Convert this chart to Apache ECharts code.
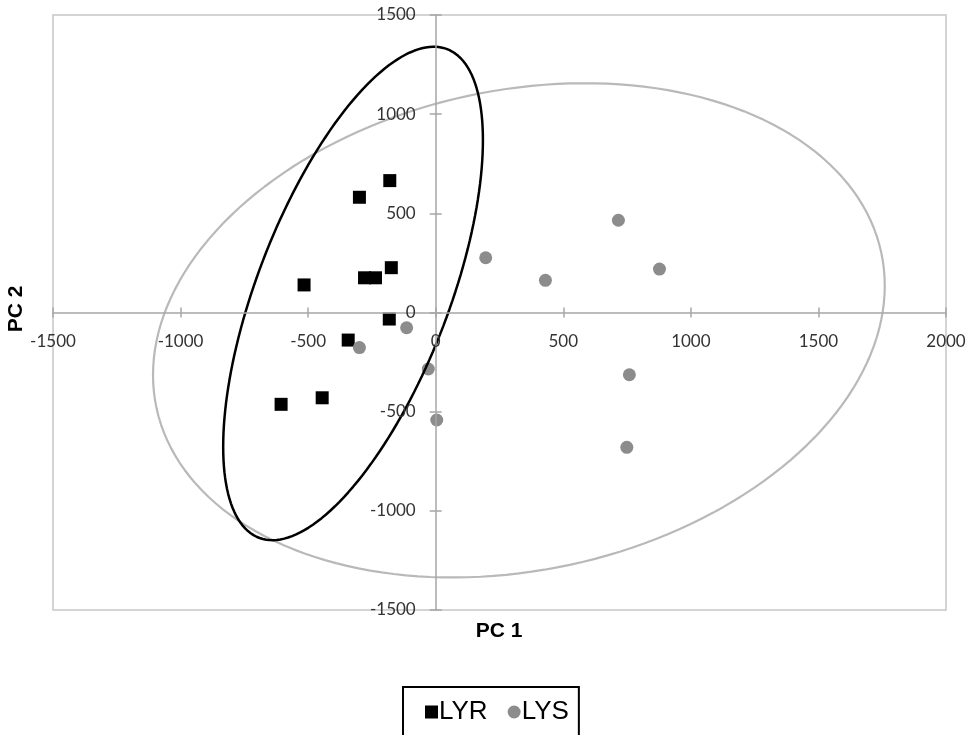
<!DOCTYPE html>
<html>
<head>
<meta charset="utf-8">
<script src="https://cdn.jsdelivr.net/npm/echarts@6/dist/echarts.min.js"></script>
<style>
  html, body { margin: 0; padding: 0; background: #fff; }
  #main { width: 970px; height: 735px; }
</style>
</head>
<body>
<div id="main"></div>
<script>
// scores
const lyrX = [-180, -299, -174, -279, -236, -516, -182, -343, -445, -606]
const lyrY = [665, 581, 226, 175, 175, 139, -33, -139, -430, -463]
const lysX = [-114, -299, -29, 4, 196, 430, 716, 877, 759, 749]
const lysY = [-77, -177, -285, -542, 276, 162, 465, 219, -314, -680]

// ellipses: centre x, centre y, half width, half height, phase (deg)
const lyrEllipse = [-324, 96, 509, 1244, 51.6]
const lysEllipse = [326, -90, 1434, 1246, 79.6]

const xTicks = [-1500, 2000, 500]
const yTicks = [-1500, 1500, 500]

function pairs(xs, ys) {
  return xs.map((x, i) => [x, ys[i]])
}

function ellipsePoints(e) {
  let pts = []
  let ph = (e[4] * Math.PI) / 180
  for (let i = 0; i <= 180; i++) {
    let t = (2 * Math.PI * i) / 180
    pts.push([e[0] + e[2] * Math.cos(t), e[1] + e[3] * Math.cos(t - ph)])
  }
  return pts
}

let chart = echarts.init(document.getElementById('main'))

// plot area
let W = 970, H = 735
let gLeft = 53, gRight = 24, gTop = 15, gBottom = 125
let gw = W - gLeft - gRight
let gh = H - gTop - gBottom
// where the zero lines sit, axes are moved there (excel style crossing axes)
let zeroX = gLeft + ((0 - xTicks[0]) / (xTicks[1] - xTicks[0])) * gw
let zeroY = gTop + ((yTicks[1] - 0) / (yTicks[1] - yTicks[0])) * gh

let tickFont = { fontFamily: 'Lato', fontSize: 17, color: '#333', formatter: (v) => String(v) }
let axisGray = { color: '#a6a6a6', width: 1.5 }

function xAxisOf(pos, offset, main) {
  return {
    type: 'value',
    position: pos,
    offset: offset,
    z: 10,
    min: xTicks[0],
    max: xTicks[1],
    interval: xTicks[2],
    splitLine: { show: false },
    axisLine: { show: main, onZero: false, lineStyle: axisGray },
    axisTick: { show: true, length: 5, lineStyle: axisGray },
    axisLabel: Object.assign({ show: main, margin: 21, showMinLabel: true, showMaxLabel: true }, tickFont),
  }
}

function yAxisOf(pos, offset, main) {
  return {
    type: 'value',
    position: pos,
    offset: offset,
    z: 10,
    min: yTicks[0],
    max: yTicks[1],
    interval: yTicks[2],
    splitLine: { show: false },
    axisLine: { show: main, onZero: false, lineStyle: axisGray },
    axisTick: { show: true, length: 6, lineStyle: axisGray },
    axisLabel: Object.assign({ show: main, margin: 20, showMinLabel: true, showMaxLabel: true }, tickFont),
  }
}

let option = {
  backgroundColor: '#fff',
  animation: false,
  grid: {
    left: gLeft,
    right: gRight,
    top: gTop,
    bottom: gBottom,
    outerBoundsMode: 'none',
    containLabel: false,
    show: true,
    borderColor: '#c6c6c6',
    borderWidth: 1.5,
  },
  xAxis: [
    xAxisOf('bottom', -(gTop + gh - zeroY), true),
    xAxisOf('top', -(zeroY - gTop), false),
  ],
  yAxis: [
    yAxisOf('left', -(zeroX - gLeft), true),
    yAxisOf('right', -(gLeft + gw - zeroX), false),
  ],
  legend: {
    data: ['LYR', 'LYS'],
    left: 403,
    top: 687,
    orient: 'horizontal',
    borderColor: '#000',
    borderWidth: 2,
    borderRadius: 0,
    padding: [12, 10, 40, 22],
    itemGap: 20,
    itemWidth: 13,
    itemHeight: 13,
    textStyle: { fontFamily: 'Liberation Sans', fontSize: 26, color: '#000', padding: [0, 0, 0, -4] },
  },
  graphic: [
    {
      type: 'text',
      x: 499,
      y: 631,
      style: {
        text: 'PC 1',
        font: 'bold 21px "Liberation Sans"',
        fill: '#000',
        align: 'center',
        verticalAlign: 'middle',
      },
    },
    {
      type: 'text',
      x: 16,
      y: 309,
      rotation: Math.PI / 2,
      style: {
        text: 'PC 2',
        font: 'bold 21px "Liberation Sans"',
        fill: '#000',
        align: 'center',
        verticalAlign: 'middle',
      },
    },
  ],
  series: [
    {
      name: 'LYS ellipse',
      type: 'line',
      showSymbol: false,
      silent: true,
      lineStyle: { color: '#b9b9b9', width: 2.2 },
      data: ellipsePoints(lysEllipse),
    },
    {
      name: 'LYR ellipse',
      type: 'line',
      showSymbol: false,
      silent: true,
      lineStyle: { color: '#000', width: 2.5 },
      data: ellipsePoints(lyrEllipse),
    },
    {
      name: 'LYR',
      type: 'scatter',
      symbol: 'rect',
      symbolSize: 13,
      itemStyle: { color: '#000', opacity: 1 },
      data: pairs(lyrX, lyrY),
    },
    {
      name: 'LYS',
      type: 'scatter',
      symbol: 'circle',
      symbolSize: 13,
      itemStyle: { color: '#8c8c8c', opacity: 1 },
      data: pairs(lysX, lysY),
    },
  ],
}
chart.setOption(option)

window.addEventListener('resize', () => {
  chart.resize()
})
</script>
</body>
</html>
